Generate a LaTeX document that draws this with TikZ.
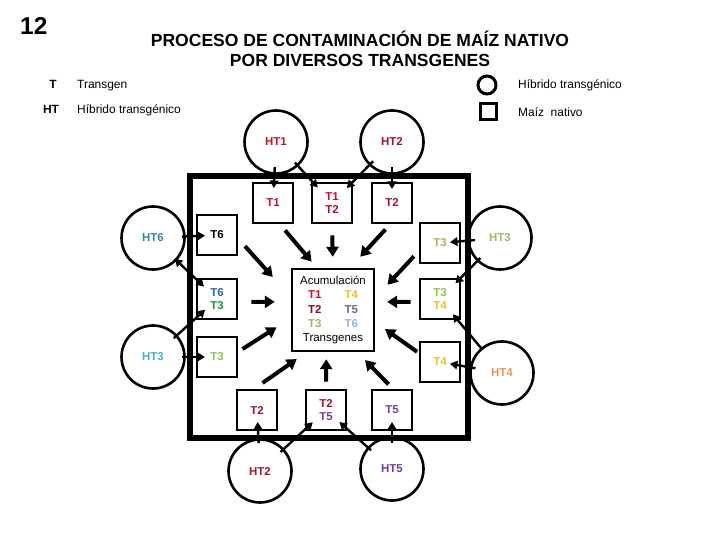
\documentclass[tikz,border=0pt]{standalone}
\usepackage{fontspec}
\setmainfont{Liberation Sans}
\usetikzlibrary{arrows.meta}
\definecolor{HT-RED}{RGB}{200, 16, 46}
\definecolor{HT-MAROON}{RGB}{160, 20, 42}
\definecolor{HT-OLIVE}{RGB}{155, 187, 89}
\definecolor{HT-GREEN}{RGB}{20, 150, 80}
\definecolor{HT-CYAN}{RGB}{75, 172, 198}
\definecolor{HT-GOLD}{RGB}{236, 192, 40}
\definecolor{HT-ORANGE}{RGB}{228, 150, 90}
\definecolor{HT-PURPLE}{RGB}{112, 60, 150}
\definecolor{HT-TEAL}{RGB}{49, 133, 156}
\definecolor{HT-BLUE}{RGB}{31, 100, 180}
\definecolor{HT-SKY}{RGB}{149, 179, 215}
\definecolor{HT-GREY}{RGB}{110, 100, 140}
\definecolor{HT-DARK}{RGB}{130, 15, 32}

\begin{document}
\begin{tikzpicture}[x=1bp, y=-1bp,
  hybrid/.style={circle, draw, line width=2.6bp, minimum size=63bp, inner sep=0pt,
    font=\fontsize{11.5}{13.5}\selectfont\bfseries},
  native/.style={rectangle, draw, line width=2.6bp, minimum size=40bp, inner sep=0pt,
    align=center, font=\fontsize{11.5}{13.5}\selectfont\bfseries},
  feed/.style={line width=2.4bp, -{Triangle[length=7.5bp,width=8.5bp]}},
  feedboth/.style={line width=2.4bp, {Triangle[length=7.5bp,width=8.5bp]}-{Triangle[length=7.5bp,width=8.5bp]}},
  flow/.style={line width=4bp, -{Triangle[length=10bp,width=12bp]}}]
  \useasboundingbox (0,0) rectangle (720,540);

  % Heading
  \node[anchor=base west, inner sep=0pt, font=\fontsize{24.5}{28}\selectfont\bfseries] (num) at (20,35) {12};
  \node[anchor=base, inner sep=0pt, font=\fontsize{17.6}{21}\selectfont\bfseries] (title1) at (360,47) {PROCESO DE CONTAMINACIÓN DE MAÍZ NATIVO};
  \node[anchor=base, inner sep=0pt, font=\fontsize{17.6}{21}\selectfont\bfseries] (title2) at (360,67) {POR DIVERSOS TRANSGENES};

  % Legend (left)
  \node[anchor=base, inner sep=0pt, font=\fontsize{12}{14}\selectfont\bfseries] (keyT) at (53,89) {T};
  \node[anchor=base west, inner sep=0pt, font=\fontsize{12}{14}\selectfont] (keyTtxt) at (77,89) {Transgen};
  \node[anchor=base, inner sep=0pt, font=\fontsize{12}{14}\selectfont\bfseries] (keyHT) at (51,114) {HT};
  \node[anchor=base west, inner sep=0pt, font=\fontsize{12}{14}\selectfont] (keyHTtxt) at (77,114) {Híbrido transgénico};

  % Legend (right)
  \node[circle, draw, line width=3bp, minimum size=18bp, inner sep=0pt] (keycirc) at (487,85) {};
  \node[anchor=base west, inner sep=0pt, font=\fontsize{12}{14}\selectfont] (keycirctxt) at (518,89) {Híbrido transgénico};
  \node[rectangle, draw, line width=3bp, minimum size=16bp, inner sep=0pt] (keysq) at (488,112) {};
  \node[anchor=base west, inner sep=0pt, font=\fontsize{12}{14}\selectfont] (keysqtxt) at (518,117) {Maíz\ \ nativo};

  % Field of native maize
  \draw[line width=6bp] (190,176) rectangle (468,438);

  % Accumulation box
  \node[rectangle, draw, line width=2.4bp, minimum size=82bp, inner sep=0pt, align=center,
    font=\fontsize{11.5}{14.3}\selectfont] (acc) at (333,310)
    {Acumulación\\
     \textbf{\textcolor{HT-RED}{T1}}\hspace{23bp}\textbf{\textcolor{HT-GOLD}{T4}}\\
     \textbf{\textcolor{HT-DARK}{T2}}\hspace{23bp}\textbf{\textcolor{HT-GREY}{T5}}\\
     \textbf{\textcolor{HT-OLIVE}{T3}}\hspace{23bp}\textbf{\textcolor{HT-SKY}{T6}}\\
     Transgenes};

  % Native plots
  \node[native, text=HT-RED] (t1) at (273,203) {T1};
  \node[native] (t12) at (332,203) {\textcolor{HT-RED}{T1}\\\textcolor{HT-MAROON}{T2}};
  \node[native, text=HT-MAROON] (t2) at (392,203) {T2};
  \node[native] (t6) at (217,235) {T6};
  \node[native] (t63) at (217,299) {\textcolor{HT-BLUE}{T6}\\\textcolor{HT-GREEN}{T3}};
  \node[native, text=HT-OLIVE] (t3l) at (217,357) {T3};
  \node[native, text=HT-MAROON] (t2b) at (257,410) {T2};
  \node[native] (t25) at (326,410) {\textcolor{HT-MAROON}{T2}\\\textcolor{HT-PURPLE}{T5}};
  \node[native, text=HT-PURPLE] (t5) at (392,410) {T5};
  \node[native, text=HT-OLIVE] (t3r) at (440,243) {T3};
  \node[native] (t34) at (440,299) {\textcolor{HT-OLIVE}{T3}\\\textcolor{HT-GOLD}{T4}};
  \node[native, text=HT-GOLD] (t4) at (440,362) {T4};

  % Transgenic hybrids
  \node[hybrid, text=HT-RED] (ht1) at (276,142) {HT1};
  \node[hybrid, text=HT-MAROON] (ht2) at (392,142) {HT2};
  \node[hybrid, text=HT-TEAL] (ht6) at (153,238) {HT6};
  \node[hybrid, text=HT-OLIVE] (ht3r) at (500,238) {HT3};
  \node[hybrid, text=HT-CYAN] (ht3l) at (153,357) {HT3};
  \node[hybrid, text=HT-ORANGE] (ht4) at (502,373) {HT4};
  \node[hybrid, text=HT-MAROON] (ht2b) at (260,471) {HT2};
  \node[hybrid, text=HT-PURPLE] (ht5) at (392,469) {HT5};

  % Pollen flow from hybrids into plots
  \draw[feed, shorten <=25bp, shorten >=15bp] (ht1.center) -- (t1.center);
  \draw[feed, shorten <=28bp, shorten >=21bp] (ht1.center) -- (t12.center);
  \draw[feed, shorten <=27bp, shorten >=21bp] (ht2.center) -- (t12.center);
  \draw[feed, shorten <=25bp, shorten >=14bp] (ht2.center) -- (t2.center);
  \draw[feed, shorten <=29bp, shorten >=12bp] (ht6.center) -- (t6.center);
  \draw[feedboth, shorten <=30bp, shorten >=18bp] (ht6.center) -- (t63.center);
  \draw[feed, shorten <=28bp, shorten >=16bp] (ht3l.center) -- (t63.center);
  \draw[feed, shorten <=29bp, shorten >=12bp] (ht3l.center) -- (t3l.center);
  \draw[feed, shorten <=28bp, shorten >=12bp] (ht2b.center) -- (t2b.center);
  \draw[feed, shorten <=28bp, shorten >=18bp] (ht2b.center) -- (t25.center);
  \draw[feed, shorten <=28bp, shorten >=18bp] (ht5.center) -- (t25.center);
  \draw[feed, shorten <=26bp, shorten >=12bp] (ht5.center) -- (t5.center);
  \draw[feed, shorten <=25bp, shorten >=10bp] (ht3r.center) -- (t3r.center);
  \draw[feed, shorten <=28bp, shorten >=22bp] (ht3r.center) -- (t34.center);
  \draw[feed, shorten <=31bp, shorten >=20bp] (ht4.center) -- (t34.center);
  \draw[feed, shorten <=27bp, shorten >=10bp] (ht4.center) -- (t4.center);

  % Accumulation of transgenes
  \draw[flow, shorten <=8bp, shorten >=8bp] (t1.-72) -- (acc.111);
  \draw[flow, shorten <=11bp, shorten >=11bp] (t12.south) -- (acc.north);
  \draw[flow, shorten <=7bp, shorten >=15bp] (t2.-95) -- (acc.68);
  \draw[flow, shorten <=10bp, shorten >=27bp] (t6.-10) -- (acc.163);
  \draw[flow, shorten <=13bp, shorten >=16bp] (t63.-8) -- (acc.169);
  \draw[flow, shorten <=5bp, shorten >=17bp] (t3l.14) -- (acc.-169);
  \draw[flow, shorten <=7bp, shorten >=18bp] (t3r.-159) -- (acc.16);
  \draw[flow, shorten <=8bp, shorten >=12bp] (t34.188) -- (acc.11);
  \draw[flow, shorten <=2bp, shorten >=12bp] (t4.157) -- (acc.-16);
  \draw[flow, shorten <=10bp, shorten >=12bp] (t2b.97) -- (acc.-122);
  \draw[flow, shorten <=7bp, shorten >=7bp] (t25.north) -- (acc.-99);
  \draw[flow, shorten <=6bp, shorten >=11bp] (t5.88) -- (acc.-60);
\end{tikzpicture}
\end{document}
